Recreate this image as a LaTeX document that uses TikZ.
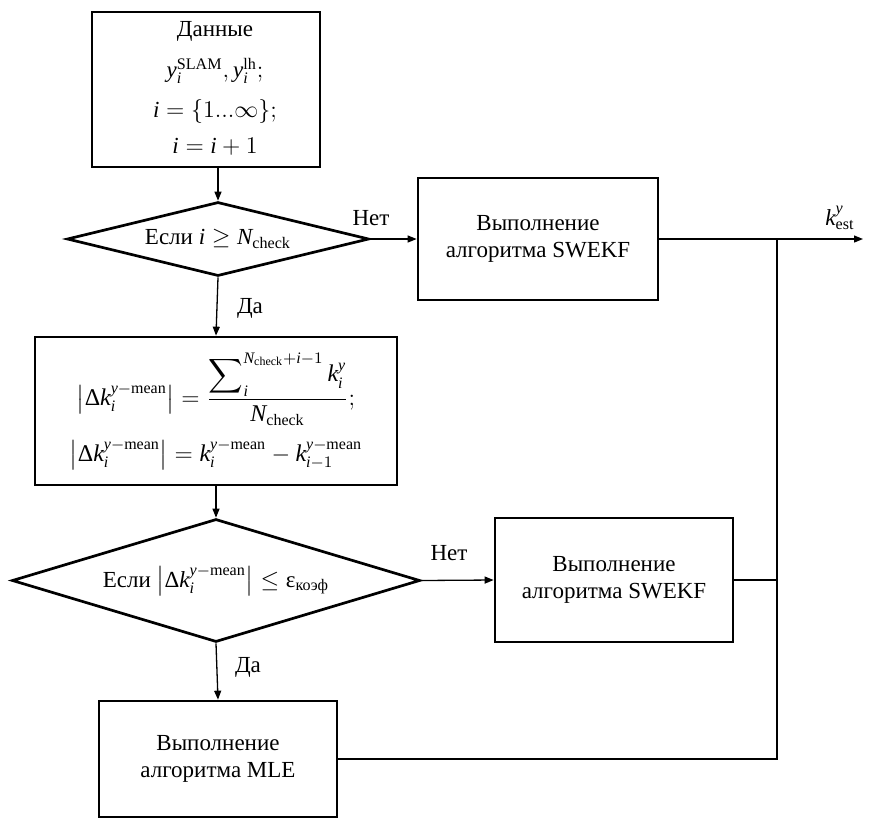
\documentclass[tikz,border=0pt]{standalone}
\usepackage{amsmath}
\usepackage{fontspec}
\setmainfont{Liberation Serif}
\usetikzlibrary{shapes.geometric,arrows.meta}
\newcommand\mainsz{\fontsize{11.5}{13.8}\selectfont}
\newcommand\bigsz{\fontsize{12}{14.4}\selectfont}
% italic variable letters taken from the text font
\newcommand\mv[1]{\text{\itshape #1}}
\newcommand\dk{\left|\text{Δ}\mv{k}_{\mv{i}}^{\mv{y}-\text{mean}}\right|}

\begin{document}
\begin{tikzpicture}[x=0.5pt,y=-0.5pt,
  every node/.style={font=\mainsz},
  block/.style={draw, rectangle, line width=1.35pt, align=center, inner sep=0pt},
  decision/.style={draw, diamond, line width=1.35pt, align=center, inner sep=0pt},
  link/.style={line width=0.65pt, -{Triangle[length=4.5pt,width=3.5pt]}},
  wire/.style={line width=0.65pt},
  tag/.style={inner sep=0pt, align=center}]
\useasboundingbox (0,0) rectangle (879,821);

% input data
\node[block, minimum width=114pt, minimum height=77.5pt] (data) at (206,89.5) {};
\node[tag] (datatext) at (215,88)
  {Данные\\[7pt] $\mv{y}_{\mv{i}}^{\text{SLAM}}, \mv{y}_{\mv{i}}^{\text{lh}};$\\[6pt]
   $\mv{i}=\{1...\infty\};$\\[4pt] $\mv{i}=\mv{i}+1$};

% first check
\node[decision, minimum width=151pt, minimum height=37pt, shape aspect=4.08]
  (check1) at (218,239) {Если $\mv{i} \geq \mv{N}_{\text{check}}$};

\node[block, minimum width=120pt, minimum height=61pt] (swekf1) at (538,239)
  {Выполнение\\алгоритма SWEKF};

% mean increment
\node[block, minimum width=181pt, minimum height=74pt, font=\bigsz] (mean) at (216,411)
  {$\dk = \dfrac{\displaystyle\sum\nolimits_{\mv{i}}^{\mv{N}_{\text{check}}+\mv{i}-1} \mv{k}_{\mv{i}}^{\mv{y}}}{\mv{N}_{\text{check}}};$\\[6pt]
   $\dk = \mv{k}_{\mv{i}}^{\mv{y}-\text{mean}} - \mv{k}_{\mv{i}-1}^{\mv{y}-\text{mean}}$};

% second check
\node[decision, minimum width=204pt, minimum height=61.5pt, shape aspect=3.32]
  (check2) at (216,580.5) {Если $\dk \leq \text{ε}_{\text{коэф}}$};

\node[block, minimum width=119pt, minimum height=62pt] (swekf2) at (614,580)
  {Выполнение\\алгоритма SWEKF};

\node[block, minimum width=119pt, minimum height=58pt] (mle) at (218,759)
  {Выполнение\\алгоритма MLE};

% branch labels
\node[tag] (no1)  at (371,218) {Нет};
\node[tag] (yes1) at (250,308) {Да};
\node[tag] (no2)  at (449,553) {Нет};
\node[tag] (yes2) at (248,667) {Да};

% output
\coordinate (out) at (863,239);
\coordinate (bus) at (777,239);
\node[tag] (kest) at (840,218) {$\mv{k}_{\text{est}}^{\mv{y}}$};

% connectors
\draw[link] (data.south -| check1.north) -- (check1.north);
\draw[link] (check1.east) -- (swekf1.west);
\draw[link] (check1.south) -- (mean.north);
\draw[link] (mean.south) -- (check2.north);
\draw[link] (check2.east) -- (swekf2.west);
\draw[link] (check2.south) -- (mle.north);
\draw[link] (swekf1.east) -- (out);
\draw[wire] (mle.east) -| (bus);
\draw[wire] (swekf2.east) -- (swekf2.east -| bus);
\end{tikzpicture}
\end{document}
